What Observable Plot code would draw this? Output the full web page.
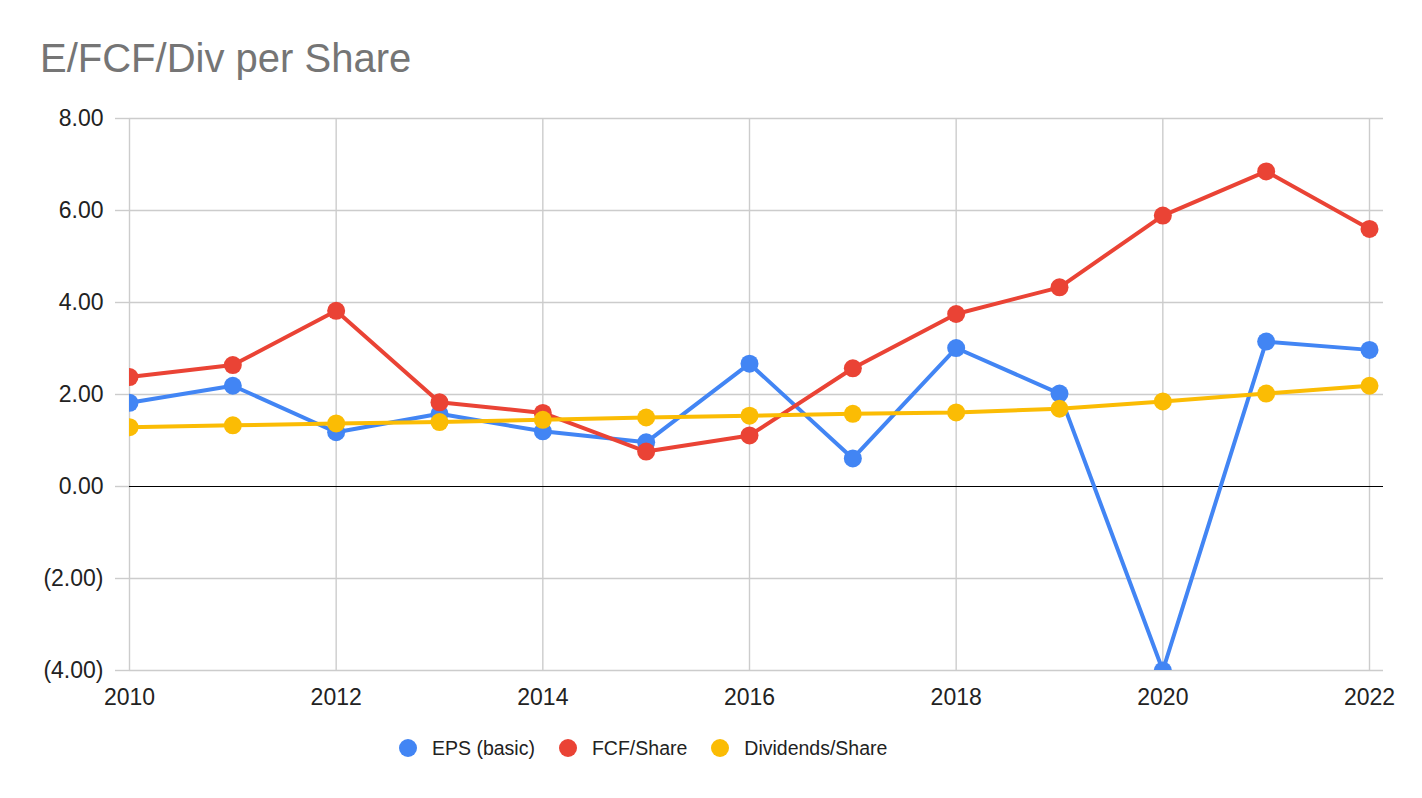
<!DOCTYPE html>
<html>
<head>
<meta charset="utf-8">
<script src="https://cdn.jsdelivr.net/npm/d3@7"></script>
<script src="https://cdn.jsdelivr.net/npm/@observablehq/plot@0.6"></script>
<style>
  body { margin: 0; background: #fff; font-family: "Liberation Sans", Arial, sans-serif; }
  #wrap { width: 1422px; height: 798px; position: relative; overflow: hidden; }
  #title { position: absolute; left: 40px; top: 38px; font-size: 40px; line-height: 40px; color: #757575; white-space: nowrap; }
  #chart { position: absolute; left: 0; top: 90px; }
  #legend { position: absolute; left: 0; top: 720px; width: 1422px; height: 56px; display: flex; align-items: center; padding-left: 399px; box-sizing: border-box; font-size: 19.5px; color: #222; }
  .item { display: flex; align-items: center; margin-right: 24px; }
  .sw { width: 18px; height: 18px; border-radius: 50%; margin-right: 15px; }
</style>
</head>
<body>
<div id="wrap">
  <div id="title">E/FCF/Div per Share</div>
  <div id="chart"></div>
  <div id="legend"></div>
</div>
<script>
const years = [2010, 2011, 2012, 2013, 2014, 2015, 2016, 2017, 2018, 2019, 2020, 2021, 2022];
const eps = [1.82, 2.19, 1.18, 1.58, 1.20, 0.96, 2.67, 0.61, 3.01, 2.02, -4.00, 3.15, 2.97];
const fcf = [2.38, 2.64, 3.82, 1.83, 1.60, 0.76, 1.11, 2.57, 3.75, 4.33, 5.89, 6.85, 5.60];
const div = [1.29, 1.33, 1.37, 1.40, 1.45, 1.50, 1.54, 1.58, 1.61, 1.69, 1.85, 2.02, 2.19];
const seriesNames = ["EPS (basic)", "FCF/Share", "Dividends/Share"];
const seriesColors = ["#4285F4", "#EA4335", "#FBBC04"];
const yTicks = [-4, -2, 0, 2, 4, 6, 8];
const xTicks = [2010, 2012, 2014, 2016, 2018, 2020, 2022];

const seriesValues = [eps, fcf, div];
const rows = (i) => years.map((yr, j) => ({ year: yr, value: seriesValues[i][j], series: seriesNames[i] }));
const fmt = (d) => d < 0 ? `(${Math.abs(d).toFixed(2)})` : d.toFixed(2);

const marks = [
  Plot.ruleY(yTicks.filter(d => d !== 0), { stroke: "#cccccc", strokeWidth: 1.4 }),
  Plot.ruleX(xTicks, { stroke: "#cccccc", strokeWidth: 1.4 }),
  Plot.axisY(yTicks, { tickSize: 14, tickPadding: 12, stroke: "#cccccc", fill: "#222", tickFormat: fmt, strokeWidth: 1.4, label: null }),
  Plot.axisX(xTicks, { tickSize: 0, tickPadding: 18, fill: "#222", tickFormat: d => String(d), label: null }),
  Plot.ruleY([0], { stroke: "#000", strokeWidth: 1.2 })
];
seriesNames.forEach((name, i) => {
  marks.push(Plot.line(rows(i), { x: "year", y: "value", stroke: seriesColors[i], strokeWidth: 4, clip: "frame" }));
  marks.push(Plot.dot(rows(i), { x: "year", y: "value", fill: seriesColors[i], r: 9, stroke: "none", clip: "frame" }));
});

const chart = Plot.plot({
  width: 1422,
  height: 630,
  marginLeft: 129,
  marginRight: 39,
  marginTop: 28,
  marginBottom: 50,
  insetRight: 14,
  x: { domain: [2010, 2022], label: null },
  y: { domain: [-4, 8], label: null },
  style: { fontFamily: "'Liberation Sans', Arial, sans-serif", fontSize: "23px", background: "#fff", overflow: "visible" },
  marks
});
document.getElementById("chart").appendChild(chart);

const legend = document.getElementById("legend");
seriesNames.forEach((name, i) => {
  const it = document.createElement("div");
  it.className = "item";
  const sw = document.createElement("div");
  sw.className = "sw";
  sw.style.background = seriesColors[i];
  const tx = document.createElement("span");
  tx.textContent = name;
  it.appendChild(sw);
  it.appendChild(tx);
  legend.appendChild(it);
});
</script>
</body>
</html>
